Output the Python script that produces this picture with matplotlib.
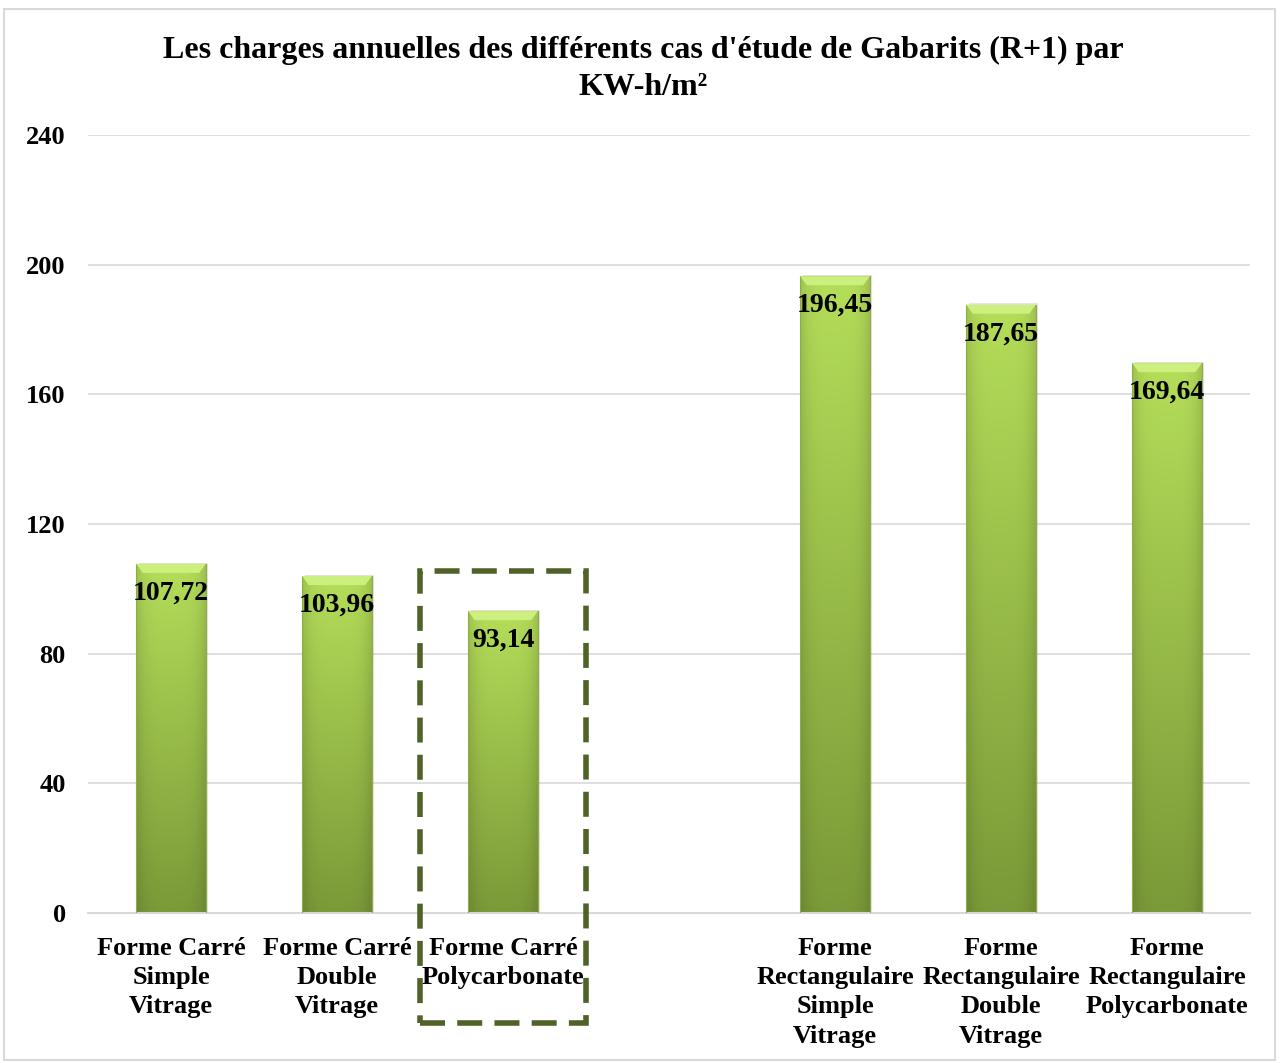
import numpy as np
import matplotlib.pyplot as plt
from matplotlib.patches import Rectangle, Polygon

plt.rcParams['font.family'] = ['Liberation Serif', 'DejaVu Serif']
plt.rcParams['font.weight'] = 'bold'

categories = ["Forme Carré\nSimple\nVitrage",
              "Forme Carré\nDouble\nVitrage",
              "Forme Carré\nPolycarbonate",
              "",
              "Forme\nRectangulaire\nSimple\nVitrage",
              "Forme\nRectangulaire\nDouble\nVitrage",
              "Forme\nRectangulaire\nPolycarbonate"]
values = [107.72, 103.96, 93.14, None, 196.45, 187.65, 169.64]
value_labels = ["107,72", "103,96", "93,14", "", "196,45", "187,65", "169,64"]
yticks = [0, 40, 80, 120, 160, 200, 240]
title = "Les charges annuelles des différents cas d'étude de Gabarits (R+1) par\nKW-h/m²"

BAR_W = 0.42
top_col = np.array([0.71, 0.87, 0.35])
bot_col = np.array([0.48, 0.60, 0.22])

fig = plt.figure(figsize=(12.81, 10.63), dpi=100)
fig.patches.append(Rectangle((0.003, 0.003), 0.992, 0.989, transform=fig.transFigure,
                             fill=False, edgecolor='#D9D9D9', linewidth=1.5))
ax = fig.add_axes([0.0687, 0.1411, 0.9071, 0.7319])

x = np.arange(len(categories))
ax.set_xlim(-0.5, len(categories) - 0.5)
ax.set_ylim(0, 240)

# gradient image: vertical light->dark, slightly darker towards the edges
ny, nx = 200, 40
t = np.linspace(0, 1, ny)[:, None]
s = np.linspace(-1, 1, nx)[None, :]
edge = 1 - 0.12 * np.abs(s) ** 4
grad = (top_col[None, None, :] * (1 - t[..., None]) + bot_col[None, None, :] * t[..., None])
grad = grad * edge[..., None]

for xi, v, lab in zip(x, values, value_labels):
    if v is None:
        continue
    # soft shadow
    ax.add_patch(Rectangle((xi - BAR_W / 2 + 0.015, 0), BAR_W, v + 0.4, facecolor='#000000',
                           alpha=0.10, edgecolor='none', zorder=1))
    bar = Rectangle((xi - BAR_W / 2, 0), BAR_W, v, facecolor='none', edgecolor='#8DAE45',
                    linewidth=0.8, zorder=3)
    ax.add_patch(bar)
    im = ax.imshow(grad, extent=(xi - BAR_W / 2, xi + BAR_W / 2, 0, v), aspect='auto',
                   origin='upper', zorder=2)
    im.set_clip_path(bar)
    # bevelled top
    h = 2.8
    dx = 0.04
    ax.add_patch(Polygon([(xi - BAR_W / 2, v), (xi + BAR_W / 2, v),
                          (xi + BAR_W / 2 - dx, v - h), (xi - BAR_W / 2 + dx, v - h)],
                         closed=True, facecolor='#CDEF7E', edgecolor='none', zorder=3))
    ax.annotate(lab, (xi, v), xytext=(0, -12), textcoords='offset points', ha='center',
                va='top', fontsize=20, fontweight='bold', color='black', zorder=5)

# highlight box around the polycarbonate square case
ax.add_patch(Rectangle((1.5, -33.9), 1.0, 139.4, fill=False, edgecolor='#4F6228',
                       linewidth=4.0, linestyle=(0, (4.5, 2.2)), clip_on=False, zorder=6))

ax.set_yticks(yticks)
ax.set_yticklabels([str(v) for v in yticks], fontsize=19, fontweight='bold')
ax.set_xticks(x)
ax.set_xticklabels(categories, fontsize=19, fontweight='bold', linespacing=1.35)
ax.tick_params(axis='y', length=0, pad=16)
ax.tick_params(axis='x', length=0, pad=17)
ax.grid(axis='y', color='#D9D9D9', linewidth=1.2, zorder=0)
ax.set_axisbelow(True)
for sp in ['top', 'right', 'left']:
    ax.spines[sp].set_visible(False)
ax.spines['bottom'].set_color('#D9D9D9')
ax.spines['bottom'].set_linewidth(1.5)

fig.text(0.502, 0.966, title, ha='center', va='top', fontsize=23, fontweight='bold',
         linespacing=1.35)

fig.savefig('out.png', dpi=100)
